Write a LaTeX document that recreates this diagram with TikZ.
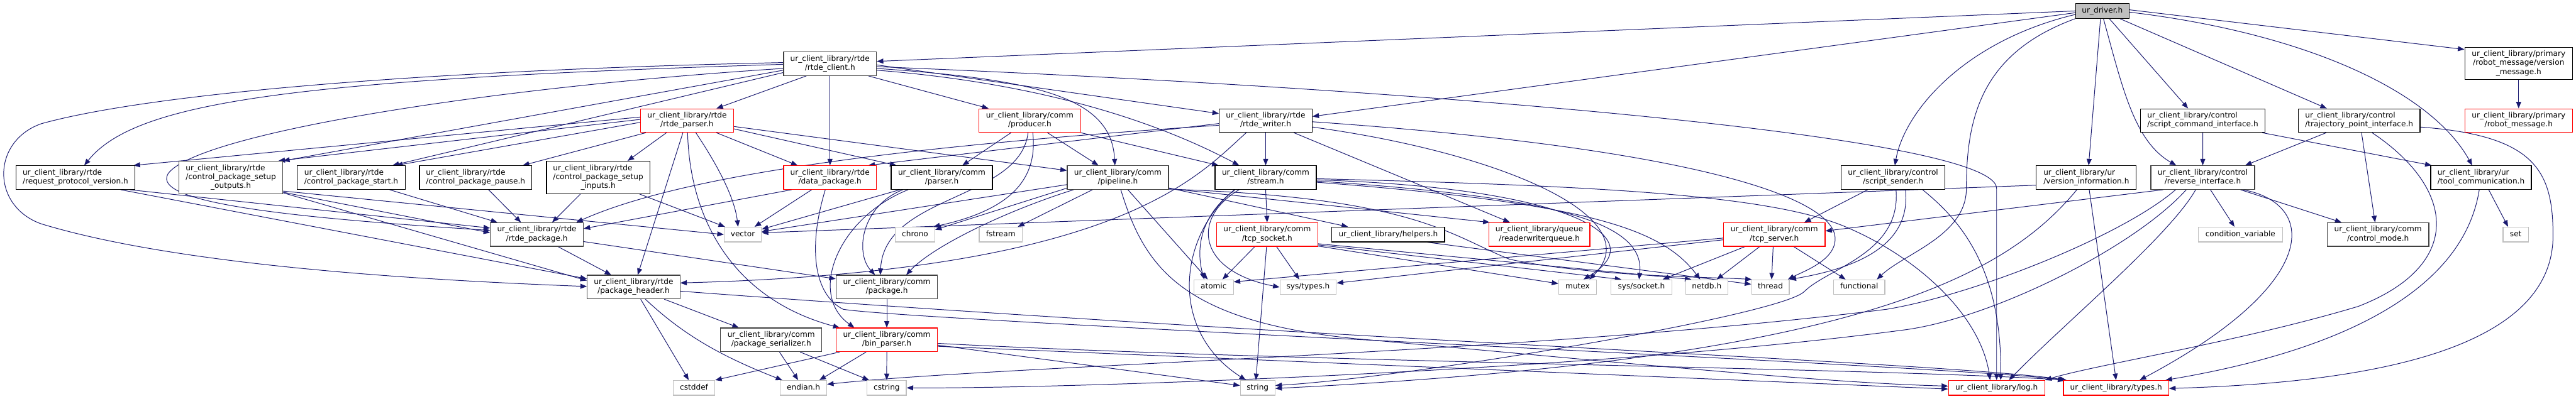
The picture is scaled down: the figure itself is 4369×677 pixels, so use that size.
\documentclass[tikz,border=0pt]{standalone}
\usepackage{fontspec}
\setmainfont{DejaVu Sans}
\usetikzlibrary{arrows.meta,backgrounds}
\definecolor{edgec}{HTML}{191970}
\definecolor{gfour}{HTML}{404040}
\definecolor{gsev}{HTML}{BFBFBF}
\definecolor{rdc}{HTML}{FF0000}
\newcommand\nf{\fontsize{12.94pt}{15.1pt}\selectfont}
\newcommand\lab[2]{\begin{tabular}{@{}c@{}}\multicolumn{1}{@{}l@{}}{#1}\\#2\end{tabular}}
\tikzset{
  nbase/.style={rectangle,inner sep=0pt,line width=1.3pt,fill=white,font=\nf},
  nk/.style={nbase,draw=black},
  ng/.style={nbase,draw=gfour},
  nr/.style={nbase,draw=rdc},
  sl/.style={text height=9.4pt,text depth=3.1pt},
  ns/.style={nbase,draw=gsev,sl},
  rootn/.style={nbase,draw=black,fill=gsev,sl},
  wh/.style 2 args={minimum width=#1pt,minimum height=#2pt},
  lnk/.style={draw=edgec,line width=1.05pt,-{Triangle[length=11pt,width=8.5pt]}}
}
\begin{document}
\begin{tikzpicture}[x=1pt,y=-1pt]
\useasboundingbox (0,0) rectangle (4369,677);
% ---------- nodes ----------
\node[rootn,wh={90.4}{25}] (drv) at (3565.5,18.6) {ur\_driver.h};
\node[ng,wh={157.5}{40}] (rc) at (1407.7,108.2) {\lab{ur\_client\_library/rtde}{/rtde\_client.h}};
\node[nk,wh={182.8}{54.4}] (vm) at (4271.7,107.9) {\lab{ur\_client\_library/primary}{/robot\_message/version\\\_message.h}};
\node[nr,wh={157.5}{40}] (rp) at (1165.2,204.7) {\lab{ur\_client\_library/rtde}{/rtde\_parser.h}};
\node[nr,wh={172}{40}] (prod) at (1746.6,204.7) {\lab{ur\_client\_library/comm}{/producer.h}};
\node[nk,wh={157.5}{40}] (rw) at (2146.6,204.7) {\lab{ur\_client\_library/rtde}{/rtde\_writer.h}};
\node[nk,wh={210.7}{40}] (sci) at (3736,204.7) {\lab{ur\_client\_library/control}{/script\_command\_interface.h}};
\node[nk,wh={206.4}{40}] (tpi) at (4001.2,204.7) {\lab{ur\_client\_library/control}{/trajectory\_point\_interface.h}};
\node[nr,wh={182.8}{40}] (rm) at (4271.7,204.7) {\lab{ur\_client\_library/primary}{/robot\_message.h}};
\node[nk,wh={202}{40}] (rpv) at (127.9,301.4) {\lab{ur\_client\_library/rtde}{/request\_protocol\_version.h}};
\node[ng,wh={176}{55}] (cpso) at (391.6,301.2) {\lab{ur\_client\_library/rtde}{/control\_package\_setup\\\_outputs.h}};
\node[nk,wh={182.8}{40}] (cpst) at (595.7,301.4) {\lab{ur\_client\_library/rtde}{/control\_package\_start.h}};
\node[nk,wh={190.4}{40}] (cpp) at (806.6,301.4) {\lab{ur\_client\_library/rtde}{/control\_package\_pause.h}};
\node[nk,wh={175.3}{55}] (cpsi) at (1014.5,301.2) {\lab{ur\_client\_library/rtde}{/control\_package\_setup\\\_inputs.h}};
\node[nr,wh={157.5}{40}] (dp) at (1407.7,301.4) {\lab{ur\_client\_library/rtde}{/data\_package.h}};
\node[nk,wh={171.8}{40}] (par) at (1597.3,301.4) {\lab{ur\_client\_library/comm}{/parser.h}};
\node[ng,wh={171.8}{40}] (pipe) at (1895.9,301.4) {\lab{ur\_client\_library/comm}{/pipeline.h}};
\node[nk,wh={171.8}{40}] (strm) at (2146.6,301.4) {\lab{ur\_client\_library/comm}{/stream.h}};
\node[nk,wh={176.4}{40}] (ss) at (3210.7,301.4) {\lab{ur\_client\_library/control}{/script\_sender.h}};
\node[nk,wh={169.6}{40}] (vi) at (3538.4,301.4) {\lab{ur\_client\_library/ur}{/version\_information.h}};
\node[ng,wh={176}{40}] (ri) at (3735.9,301.4) {\lab{ur\_client\_library/control}{/reverse\_interface.h}};
\node[nk,wh={170.5}{40}] (tc) at (4207.9,301.4) {\lab{ur\_client\_library/ur}{/tool\_communication.h}};
\node[ng,wh={157.5}{40}] (rpk) at (910.5,398.1) {\lab{ur\_client\_library/rtde}{/rtde\_package.h}};
\node[ns,wh={63.2}{25}] (vec) at (1259.8,398.1) {vector};
\node[ns,wh={66.8}{25}] (chr) at (1552,398.1) {chrono};
\node[ns,wh={73.2}{25}] (fst) at (1697.3,398.1) {fstream};
\node[nr,wh={171.8}{40}] (tcps) at (2149.1,398.1) {\lab{ur\_client\_library/comm}{/tcp\_socket.h}};
\node[nk,sl,wh={191.1}{25}] (hlp) at (2354.5,398.1) {ur\_client\_library/helpers.h};
\node[nr,wh={171.4}{40}] (rwq) at (2610.7,398.1) {\lab{ur\_client\_library/queue}{/readerwriterqueue.h}};
\node[nr,wh={172.1}{40}] (tcpv) at (3009.3,398.1) {\lab{ur\_client\_library/comm}{/tcp\_server.h}};
\node[ns,wh={142.9}{25}] (cv) at (3799.7,398.1) {condition\_variable};
\node[ng,wh={172.3}{40}] (cm) at (4033.2,398.1) {\lab{ur\_client\_library/comm}{/control\_mode.h}};
\node[ns,wh={43.2}{25}] (sett) at (4266.8,398.1) {set};
\node[ng,wh={157.2}{40}] (ph) at (1074.6,487.3) {\lab{ur\_client\_library/rtde}{/package\_header.h}};
\node[ng,wh={172.1}{40}] (pkg) at (1504,487.3) {\lab{ur\_client\_library/comm}{/package.h}};
\node[ns,wh={66.8}{25}] (atm) at (2058.4,487.5) {atomic};
\node[ns,wh={95.7}{25}] (styp) at (2218.6,487.5) {sys/types.h};
\node[ns,wh={64.3}{25}] (mtx) at (2675.7,487.5) {mutex};
\node[ns,wh={102.9}{25}] (ssock) at (2783.9,487.5) {sys/socket.h};
\node[ns,wh={71.4}{25}] (ndb) at (2894.6,487.5) {netdb.h};
\node[ns,wh={63.9}{25}] (thr) at (3002.7,487.5) {thread};
\node[ns,wh={87.1}{25}] (fun) at (3153.2,487.5) {functional};
\node[ng,wh={171.8}{40}] (pser) at (1308,576.9) {\lab{ur\_client\_library/comm}{/package\_serializer.h}};
\node[nr,wh={172.1}{40}] (bp) at (1504,576.9) {\lab{ur\_client\_library/comm}{/bin\_parser.h}};
\node[ns,wh={70.7}{25}] (csd) at (1177.1,658.4) {cstddef};
\node[ns,wh={78.9}{25}] (endi) at (1362.7,658.4) {endian.h};
\node[ns,wh={66.4}{25}] (cstr) at (1503.9,658.4) {cstring};
\node[ns,wh={58.9}{25}] (strg) at (2133,658.4) {string};
\node[nr,sl,wh={163.2}{25}] (logh) at (3386.3,658.4) {ur\_client\_library/log.h};
\node[nr,sl,wh={178.6}{25}] (typh) at (3588.9,658.4) {ur\_client\_library/types.h};
% ---------- edges ----------
\begin{pgfonlayer}{background}
\fill[white] (0,0) rectangle (4369,677);
% ur_driver
\draw[lnk] (drv.west) -- ([yshift=4pt]rc.east);
\draw[lnk] ([yshift=-3pt]drv.west) -- ([yshift=7pt]rw.east);
\draw[lnk] ([yshift=-6pt]drv.west) .. controls (3330,70) and (3230,190) .. ([xshift=3pt]ss.north);
\draw[lnk] (drv.south west) .. controls (3360,90) and (3335,200) .. (3335,320) .. controls (3335,400) and (3230,430) .. ([xshift=30pt]fun.north);
\draw[lnk] ([xshift=-3pt]drv.south) -- ([xshift=4pt]vi.north);
\draw[lnk] ([xshift=2pt]drv.south) .. controls (3600,150) and (3620,240) .. ([xshift=-45pt]ri.north);
\draw[lnk] ([xshift=12pt]drv.south) -- ([xshift=-25pt]sci.north);
\draw[lnk] ([xshift=30pt]drv.south) -- ([xshift=-55pt]tpi.north);
\draw[lnk] ([yshift=-2pt]drv.east) .. controls (3900,55) and (4120,150) .. ([xshift=-15pt]tc.north);
\draw[lnk] ([yshift=2pt]drv.east) -- ([yshift=24pt]vm.west);
\draw[lnk] (vm.south) -- (rm.north);
% rtde_client
\draw[lnk] ([yshift=2pt]rc.west) .. controls (700,120) and (250,160) .. (70,210) .. controls (-15,240) and (-15,350) .. (70,380) .. controls (300,450) and (700,475) .. ([yshift=1pt]ph.west);
\draw[lnk] ([yshift=-1pt]rc.west) .. controls (500,135) and (230,172) .. ([xshift=15pt]rpv.north);
\draw[lnk] ([yshift=-8pt]rc.west) .. controls (800,150) and (330,230) .. (285,295) .. controls (255,345) and (500,370) .. ([yshift=7pt]rpk.west);
\draw[lnk] ([yshift=-11pt]rc.west) -- (cpso.north east);
\draw[lnk] ([yshift=-15pt]rc.west) -- ([xshift=70pt]cpst.north);
\draw[lnk] ([xshift=-40pt]rc.south) -- ([xshift=50pt]rp.north);
\draw[lnk] (rc.south) -- (dp.north);
\draw[lnk] ([xshift=65pt]rc.south) -- ([xshift=-70pt]prod.north);
\draw[lnk] ([yshift=-5pt]rc.east) .. controls (2400,150) and (3386.3,230) .. (3386.3,320) -- (logh.north);
\draw[lnk] ([yshift=-2pt]rc.east) -- ([yshift=12pt]rw.west);
\draw[lnk] ([yshift=-8pt]rc.east) .. controls (1760,135) and (1885,165) .. ([xshift=-5pt]pipe.north);
\draw[lnk] ([yshift=-11pt]rc.east) .. controls (1750,140) and (1950,200) .. ([xshift=-45pt]strm.north);
% rtde_parser
\draw[lnk] ([yshift=6pt]rp.west) -- ([xshift=-3pt]rpv.north east);
\draw[lnk] ([yshift=2pt]rp.west) -- ([xshift=-8pt]cpso.north east);
\draw[lnk] ([yshift=-3pt]rp.west) -- ([xshift=76pt]cpst.north);
\draw[lnk] ([xshift=-70pt]rp.south) -- ([xshift=80pt]cpp.north);
\draw[lnk] ([xshift=-35pt]rp.south) -- ([xshift=50pt]cpsi.north);
\draw[lnk] ([xshift=-7pt]rp.south) -- ([xshift=7pt]ph.north);
\draw[lnk] ([xshift=1pt]rp.south) .. controls (1170,380) and (1250,510) .. ([xshift=-80pt]bp.north);
\draw[lnk] ([xshift=15pt]rp.south) .. controls (1210,270) and (1245,330) .. ([xshift=-8pt]vec.north);
\draw[lnk] ([xshift=50pt]rp.south) -- ([xshift=-55pt]dp.north);
\draw[lnk] ([yshift=-14pt]rp.east) -- ([xshift=-77pt]par.north);
\draw[lnk] ([yshift=-10pt]rp.east) -- ([yshift=12pt]pipe.west);
% producer
\draw[lnk] ([xshift=-32pt]prod.south) -- ([xshift=35pt]par.north);
\draw[lnk] ([xshift=30pt]prod.south) -- ([xshift=-33pt]pipe.north);
\draw[lnk] (prod.south east) -- ([xshift=-80pt]strm.north);
\draw[lnk] ([xshift=-3pt]prod.south) .. controls (1730,340) and (1500,330) .. ([xshift=-11pt]pkg.north);
\draw[lnk] ([xshift=5pt]prod.south) .. controls (1760,300) and (1720,355) .. ([xshift=-3pt]chr.north east);
% rtde_writer
\draw[lnk] (rw.south) -- (strm.north);
\draw[lnk] ([xshift=48pt]rw.south) -- ([xshift=-50pt]rwq.north);
\draw[lnk] ([yshift=-8pt]rw.west) .. controls (1500,250) and (1150,300) .. ([xshift=67pt]rpk.north);
\draw[lnk] ([yshift=-5pt]rw.west) -- ([xshift=65pt]dp.north);
\draw[lnk] ([xshift=-33pt]rw.south) .. controls (2030,300) and (1900,460) .. ([yshift=7pt]ph.east);
\draw[lnk] ([yshift=-2pt]rw.east) .. controls (2850,250) and (3100,330) .. (3112,400) .. controls (3118,440) and (3060,460) .. ([xshift=-3pt]thr.north east);
\draw[lnk] ([yshift=-11pt]rw.east) .. controls (2550,260) and (2800,370) .. ([xshift=20pt]mtx.north);
% request_protocol_version & setup/start/pause packages
\draw[lnk] ([xshift=-10pt]rpv.south east) -- ([yshift=11pt]rpk.west);
\draw[lnk] ([xshift=-25pt]rpv.south east) -- ([yshift=14pt]ph.west);
\draw[lnk] ([yshift=3pt]cpso.south east) -- ([yshift=3pt]rpk.west);
\draw[lnk] ([yshift=2pt]cpso.south east) -- ([yshift=11pt]ph.west);
\draw[lnk] ([yshift=5pt]cpso.south east) -- (vec.west);
\draw[lnk] ([xshift=65pt]cpst.south) -- ([xshift=-67pt]rpk.north);
\draw[lnk] ([xshift=22pt]cpp.south) -- ([xshift=-27pt]rpk.north);
\draw[lnk] ([xshift=-30pt]cpsi.south) -- ([xshift=26pt]rpk.north);
\draw[lnk] ([xshift=70pt]cpsi.south) -- ([xshift=2pt]vec.north west);
% data_package
\draw[lnk] ([xshift=-65pt]dp.south) -- ([yshift=10pt]rpk.east);
\draw[lnk] ([xshift=-31pt]dp.south) -- ([xshift=20pt]vec.north);
\draw[lnk] ([xshift=-8pt]dp.south) .. controls (1370,420) and (1380,500) .. (1430,525) .. controls (1550,545) and (3300,620) .. ([xshift=4pt]typh.north west);
% parser
\draw[lnk] ([xshift=-71pt]par.south) -- ([yshift=9pt]vec.east);
\draw[lnk] ([xshift=-66pt]par.south) .. controls (1460,350) and (1450,430) .. ([xshift=-20pt]pkg.north);
\draw[lnk] ([xshift=-57pt]par.south) .. controls (1420,370) and (1370,500) .. ([xshift=-55pt]bp.north);
% pipeline
\draw[lnk] ([yshift=-12pt]pipe.west) -- ([yshift=5pt]vec.east);
\draw[lnk] ([yshift=-18pt]pipe.west) -- ([yshift=8pt]chr.east);
\draw[lnk] ([xshift=-75pt]pipe.south) .. controls (1700,360) and (1580,420) .. ([xshift=33pt]pkg.north);
\draw[lnk] ([xshift=-43pt]pipe.south) -- ([xshift=29pt]fst.north);
\draw[lnk] ([xshift=17pt]pipe.south) -- ([xshift=-10pt]atm.north);
\draw[lnk] ([xshift=5pt]pipe.south) .. controls (1940,450) and (2000,545) .. (2300,575) .. controls (2800,620) and (3100,650) .. ([yshift=3pt]logh.west);
\draw[lnk] ([yshift=2pt]pipe.south east) -- ([xshift=2pt]rwq.north west);
\draw[lnk] ([yshift=3pt]pipe.south east) -- ([xshift=28pt]hlp.north west);
\draw[lnk] ([yshift=1pt]pipe.south east) .. controls (2400,335) and (2460,400) .. (2560,440) .. controls (2700,470) and (2900,470) .. ([xshift=1pt]thr.north west);
% stream
\draw[lnk] (strm.south) -- (tcps.north);
\draw[lnk] ([xshift=-52pt]strm.south) .. controls (2030,370) and (2030,430) .. ([xshift=-16pt]atm.north);
\draw[lnk] ([xshift=-53pt]strm.south) .. controls (2000,400) and (1980,560) .. ([xshift=-20pt]strg.north);
\draw[lnk] ([xshift=-45pt]strm.south) .. controls (2020,370) and (2030,460) .. (styp.west);
\draw[lnk] ([yshift=-4pt]strm.east) .. controls (2650,318) and (2810,400) .. ([xshift=10pt]mtx.north);
\draw[lnk] ([yshift=-6pt]strm.east) .. controls (2650,335) and (2790,380) .. ([xshift=-4pt]ssock.north);
\draw[lnk] ([yshift=-8pt]strm.east) .. controls (2700,345) and (2820,390) .. ([xshift=-11pt]ndb.north);
\draw[lnk] ([yshift=-2pt]strm.east) .. controls (2700,315) and (3000,330) .. (3130,385) .. controls (3260,440) and (3360,540) .. ([xshift=-11pt]logh.north);
% tcp_socket
\draw[lnk] ([xshift=-21pt]tcps.south) -- ([xshift=15pt]atm.north);
\draw[lnk] ([xshift=-1pt]tcps.south) -- ([xshift=-3pt]strg.north);
\draw[lnk] ([xshift=16pt]tcps.south) -- ([xshift=-15pt]styp.north);
\draw[lnk] ([yshift=1pt]tcps.south east) -- ([yshift=6pt]mtx.west);
\draw[lnk] ([yshift=3pt]tcps.south east) -- ([xshift=-34pt]ssock.north);
\draw[lnk] ([yshift=5pt]tcps.south east) -- ([xshift=-26pt]ndb.north);
% helpers
\draw[lnk] ([xshift=-30pt]hlp.south east) -- ([yshift=5pt]thr.west);
% tcp_server
\draw[lnk] ([yshift=-6pt]tcpv.west) -- ([yshift=9pt]atm.east);
\draw[lnk] ([yshift=-9pt]tcpv.west) -- ([yshift=7pt]styp.east);
\draw[lnk] ([xshift=-50pt]tcpv.south) -- ([xshift=36pt]ssock.north);
\draw[lnk] ([xshift=-25pt]tcpv.south) -- ([xshift=17pt]ndb.north);
\draw[lnk] ([xshift=-2pt]tcpv.south) -- ([xshift=2pt]thr.north);
\draw[lnk] ([xshift=33pt]tcpv.south) -- ([xshift=-23pt]fun.north);
% script_sender
\draw[lnk] ([xshift=-43pt]ss.south) -- ([xshift=51pt]tcpv.north);
\draw[lnk] ([xshift=21pt]ss.south) .. controls (3240,400) and (3180,450) .. (thr.north east);
\draw[lnk] ([xshift=5pt]ss.south) .. controls (3225,430) and (3100,455) .. (3060,495) .. controls (3020,535) and (2400,640) .. ([yshift=4pt]strg.east);
\draw[lnk] ([xshift=50pt]ss.south) .. controls (3320,370) and (3395,450) .. ([xshift=7pt]logh.north);
% version_information
\draw[lnk] ([yshift=-13pt]vi.west) -- ([yshift=3pt]vec.east);
\draw[lnk] ([xshift=-16pt]vi.south) .. controls (3400,470) and (3150,610) .. ([yshift=-1pt]strg.east);
\draw[lnk] ([xshift=5pt]vi.south) -- (typh.north);
% reverse_interface
\draw[lnk] ([xshift=-67pt]ri.south) -- ([yshift=6pt]tcpv.east);
\draw[lnk] ([xshift=13pt]ri.south) -- ([xshift=-10pt]cv.north);
\draw[lnk] ([xshift=64pt]ri.south) -- ([xshift=-62pt]cm.north);
\draw[lnk] ([xshift=-12pt]ri.south) .. controls (3680,400) and (3500,550) .. ([xshift=21pt]logh.north);
\draw[lnk] ([xshift=68pt]ri.south) .. controls (3930,345) and (3940,480) .. ([xshift=40pt]typh.north);
\draw[lnk] ([xshift=-46pt]ri.south) .. controls (3600,400) and (3350,500) .. (3200,525) .. controls (2600,600) and (1700,620) .. ([yshift=6pt]endi.east);
\draw[lnk] ([xshift=-28pt]ri.south) .. controls (3620,420) and (3380,540) .. (3230,560) .. controls (2700,630) and (1800,660) .. (cstr.east);
% script_command_interface
\draw[lnk] (sci.south) -- (ri.north);
\draw[lnk] ([xshift=-5pt]sci.south east) -- ([xshift=2pt]tc.north west);
% trajectory_point_interface
\draw[lnk] ([xshift=-56pt]tpi.south) -- ([xshift=72pt]ri.north);
\draw[lnk] ([xshift=4pt]tpi.south) -- ([xshift=-5pt]cm.north);
\draw[lnk] ([xshift=22pt]tpi.south) .. controls (4165,320) and (4180,450) .. (4000,520) .. controls (3800,580) and (3550,620) .. (logh.north east);
\draw[lnk] ([yshift=-11pt]tpi.east) .. controls (4300,230) and (4330,290) .. (4330,400) .. controls (4330,600) and (4000,650) .. ([yshift=-1pt]typh.east);
% tool_communication
\draw[lnk] ([xshift=-3pt]tc.south) .. controls (4180,480) and (4000,590) .. ([xshift=-6pt]typh.north east);
\draw[lnk] ([xshift=13pt]tc.south) -- ([xshift=-13pt]sett.north);
% rtde_package
\draw[lnk] ([xshift=36pt]rpk.south) -- ([xshift=-38pt]ph.north);
\draw[lnk] ([yshift=-12pt]rpk.east) -- ([yshift=14pt]pkg.west);
% package_header
\draw[lnk] ([xshift=12pt]ph.south) -- ([xshift=-9pt]csd.north);
\draw[lnk] ([xshift=20pt]ph.south) .. controls (1150,560) and (1210,600) .. ([xshift=-36pt]endi.north);
\draw[lnk] ([xshift=52pt]ph.south) -- ([xshift=-55pt]pser.north);
\draw[lnk] ([yshift=-7pt]ph.east) .. controls (2300,580) and (3300,615) .. ([xshift=6pt]typh.north west);
% package_serializer
\draw[lnk] ([xshift=14pt]pser.south) -- ([xshift=-9pt]endi.north);
\draw[lnk] ([xshift=49pt]pser.south) -- ([xshift=-30pt]cstr.north);
% package
\draw[lnk] (pkg.south) -- (bp.north);
% bin_parser
\draw[lnk] ([xshift=-80pt]bp.south) -- (csd.north east);
\draw[lnk] ([xshift=-35pt]bp.south) -- ([xshift=27pt]endi.north);
\draw[lnk] (bp.south) -- (cstr.north);
\draw[lnk] ([yshift=-9pt]bp.east) -- ([yshift=4pt]strg.west);
\draw[lnk] ([yshift=-11pt]bp.east) -- ([yshift=-2pt]logh.west);
\draw[lnk] ([yshift=-6pt]bp.east) .. controls (2200,615) and (3200,625) .. ([xshift=2pt]typh.north west);
\end{pgfonlayer}
\end{tikzpicture}
\end{document}
